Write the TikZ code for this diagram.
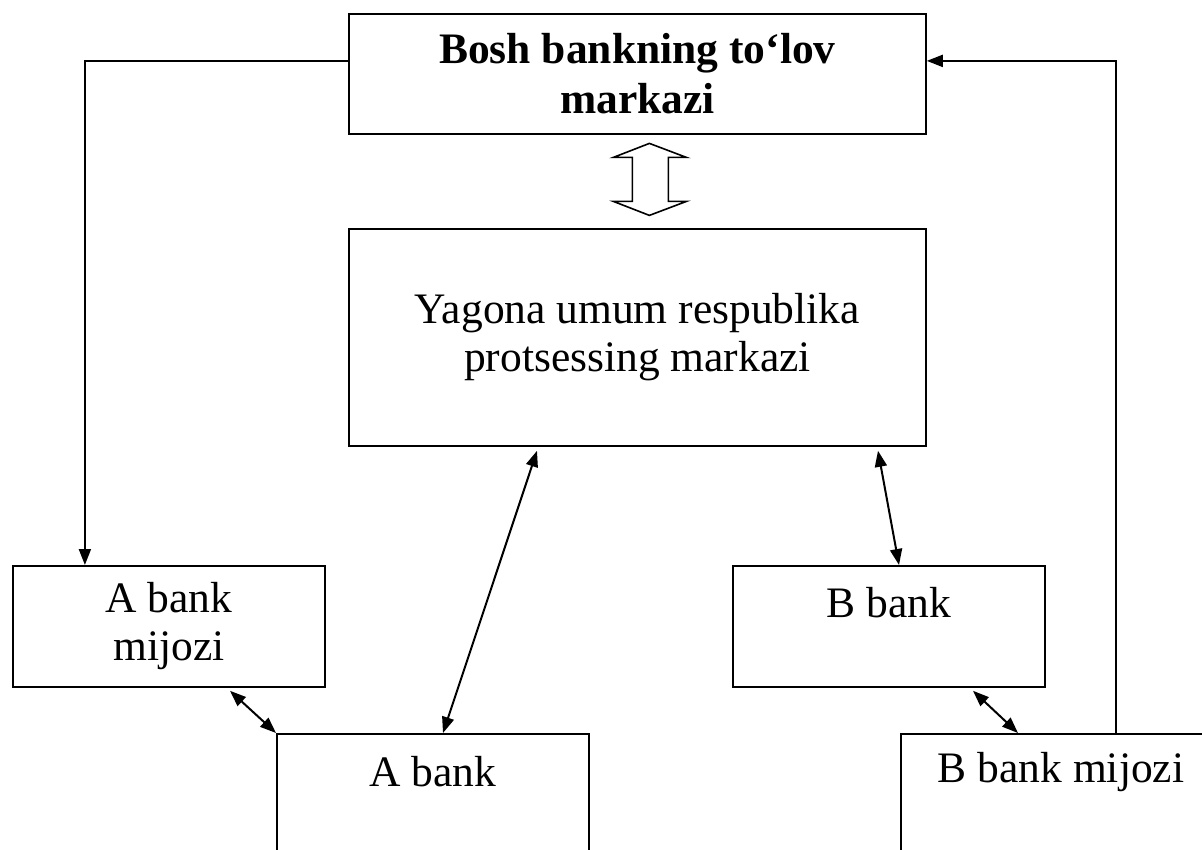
\documentclass[tikz,border=0pt]{standalone}
\usepackage{fontspec}
\setmainfont{Liberation Serif}
\usetikzlibrary{arrows.meta,calc}

\begin{document}
\begin{tikzpicture}[x=1pt,y=-1pt,
  box/.style={draw,line width=1.8pt,rectangle,inner sep=0pt,anchor=north west},
  txt/.style={align=center,font=\fontsize{43.5}{48}\selectfont},
  btxt/.style={align=center,font=\fontsize{43.5}{50}\selectfont\bfseries},
  tip/.style={Triangle[length=16pt,width=12pt]},
  link/.style={line width=2pt,-{Triangle[length=16pt,width=12pt]}},
  both/.style={line width=2pt,{Triangle[length=16pt,width=12pt]}-{Triangle[length=16pt,width=12pt]}}]
\useasboundingbox (0,0) rectangle (1202,850);
\clip (0,0) rectangle (1202,850);

% boxes
\node[box,minimum width=577pt,minimum height=120pt] (top) at (348,13) {};
\node[btxt] (toptxt) at (top.center) {Bosh bankning to‘lov\\markazi};

\node[box,minimum width=577pt,minimum height=217pt] (mid) at (348,228) {};
\node[txt] (midtxt) at (mid.center) {Yagona umum respublika\\protsessing markazi};

\node[box,minimum width=312pt,minimum height=121pt] (amij) at (12,565) {};
\node[txt] (amijtxt) at (amij.center) {A bank\\mijozi};

\node[box,minimum width=312pt,minimum height=121pt] (bbank) at (732,565) {};
\node[txt] (bbanktxt) at ($(bbank.north)+(0,38)$) {B bank};

\node[box,minimum width=312pt,minimum height=160pt] (abank) at (276,733) {};
\node[txt] (abanktxt) at ($(abank.north)+(0,39)$) {A bank};

\node[box,minimum width=322pt,minimum height=160pt] (bmij) at (900,733) {};
\node[txt] (bmijtxt) at ($(bmij.north west)+(161,39)$) {B bank mijozi};

% hollow two-way arrow between the top and middle boxes
\coordinate (dc) at ($(top.south)!0.5!(mid.north)$);
\draw[line width=1.6pt,line join=miter]
  ($(dc)+(12,-38)$) -- ($(dc)+(49,-24)$) -- ($(dc)+(31,-24)$) -- ($(dc)+(31,20)$)
  -- ($(dc)+(49,20)$) -- ($(dc)+(12,34)$) -- ($(dc)+(-24,20)$) -- ($(dc)+(-5,20)$)
  -- ($(dc)+(-5,-24)$) -- ($(dc)+(-24,-24)$) -- cycle;

% connectors
\draw[link] ([yshift=13pt]top.west) -| ([xshift=-84pt]amij.north);
\draw[link] ([xshift=216pt]bmij.north west) |- ([yshift=13pt]top.east);
\draw[both] ([xshift=189pt,yshift=-4pt]mid.south west) -- ([xshift=167pt]abank.north west);
\draw[both] ([xshift=530pt,yshift=-4pt]mid.south west) -- ([xshift=167pt]bbank.north west);
\draw[both] ([xshift=218pt,yshift=-3pt]amij.south west) -- (abank.north west);
\draw[both] ([xshift=241pt,yshift=-3pt]bbank.south west) -- ([xshift=118pt]bmij.north west);
\end{tikzpicture}
\end{document}
